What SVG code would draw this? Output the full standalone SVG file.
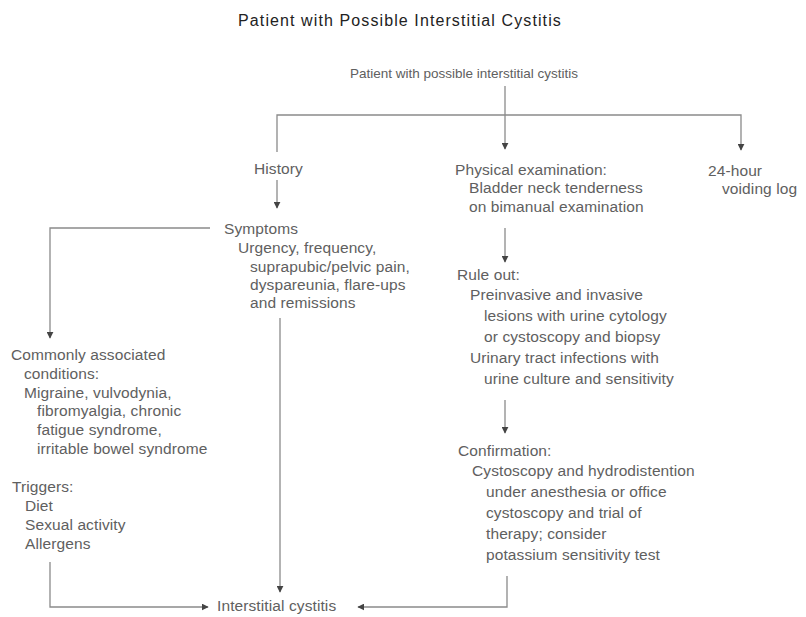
<svg xmlns="http://www.w3.org/2000/svg" width="806" height="617" viewBox="0 0 806 617">
<style>
text{font-family:"Liberation Sans",Arial,sans-serif;font-size:15.5px;fill:#606060;letter-spacing:0.1px}
.title{font-size:16px;fill:#222;letter-spacing:1.1px}
.top{font-size:13.5px;letter-spacing:0}
.c{fill:none;stroke:#8a8a8a;stroke-width:1.3}
</style>
<defs>
<marker id="ah" viewBox="0 0 10 10" refX="9" refY="5" markerWidth="7" markerHeight="7" markerUnits="userSpaceOnUse" orient="auto">
<path d="M0,0 L10,5 L0,10 z" fill="#444"/>
</marker>
</defs>
<rect width="806" height="617" fill="#fff"/>
<text class="title" x="400" y="26" text-anchor="middle">Patient with Possible Interstitial Cystitis</text>

<g id="connectors">
<path class="c" d="M505,86 V149" marker-end="url(#ah)"/>
<path class="c" d="M277,152 V115 H741 V150" marker-end="url(#ah)"/>
<path class="c" d="M277,180 V208" marker-end="url(#ah)"/>
<path class="c" d="M210,228 H50 V338" marker-end="url(#ah)"/>
<path class="c" d="M280,318 V592" marker-end="url(#ah)"/>
<path class="c" d="M505,228 V262" marker-end="url(#ah)"/>
<path class="c" d="M505,400 V433" marker-end="url(#ah)"/>
<path class="c" d="M50,562 V607 H208" marker-end="url(#ah)"/>
<path class="c" d="M507,576 V607 H358" marker-end="url(#ah)"/>
</g>

<g id="start"><text class="top" x="350" y="78">Patient with possible interstitial cystitis</text></g>
<g id="history"><text x="254" y="174">History</text></g>
<g id="symptoms">
<text x="224" y="234">Symptoms</text>
<text x="238" y="253">Urgency, frequency,</text>
<text x="250" y="272">suprapubic/pelvic pain,</text>
<text x="250" y="290">dyspareunia, flare-ups</text>
<text x="250" y="308">and remissions</text>
</g>
<g id="physical">
<text x="455" y="175">Physical examination:</text>
<text x="469" y="193">Bladder neck tenderness</text>
<text x="469" y="212">on bimanual examination</text>
</g>
<g id="voiding">
<text x="708" y="176">24-hour</text>
<text x="722" y="194">voiding log</text>
</g>
<g id="ruleout">
<text x="457" y="280">Rule out:</text>
<text x="470" y="300">Preinvasive and invasive</text>
<text x="484" y="321">lesions with urine cytology</text>
<text x="484" y="342">or cystoscopy and biopsy</text>
<text x="470" y="363">Urinary tract infections with</text>
<text x="484" y="384">urine culture and sensitivity</text>
</g>
<g id="confirmation">
<text x="458" y="456">Confirmation:</text>
<text x="472" y="476">Cystoscopy and hydrodistention</text>
<text x="486" y="497">under anesthesia or office</text>
<text x="486" y="518">cystoscopy and trial of</text>
<text x="486" y="539">therapy; consider</text>
<text x="486" y="560">potassium sensitivity test</text>
</g>
<g id="associated">
<text x="11" y="360">Commonly associated</text>
<text x="24" y="379">conditions:</text>
<text x="24" y="398">Migraine, vulvodynia,</text>
<text x="37" y="416">fibromyalgia, chronic</text>
<text x="37" y="435">fatigue syndrome,</text>
<text x="37" y="454">irritable bowel syndrome</text>
</g>
<g id="triggers">
<text x="12" y="492">Triggers:</text>
<text x="25" y="511">Diet</text>
<text x="25" y="530">Sexual activity</text>
<text x="25" y="549">Allergens</text>
</g>
<g id="ic"><text x="217" y="611">Interstitial cystitis</text></g>
</svg>
